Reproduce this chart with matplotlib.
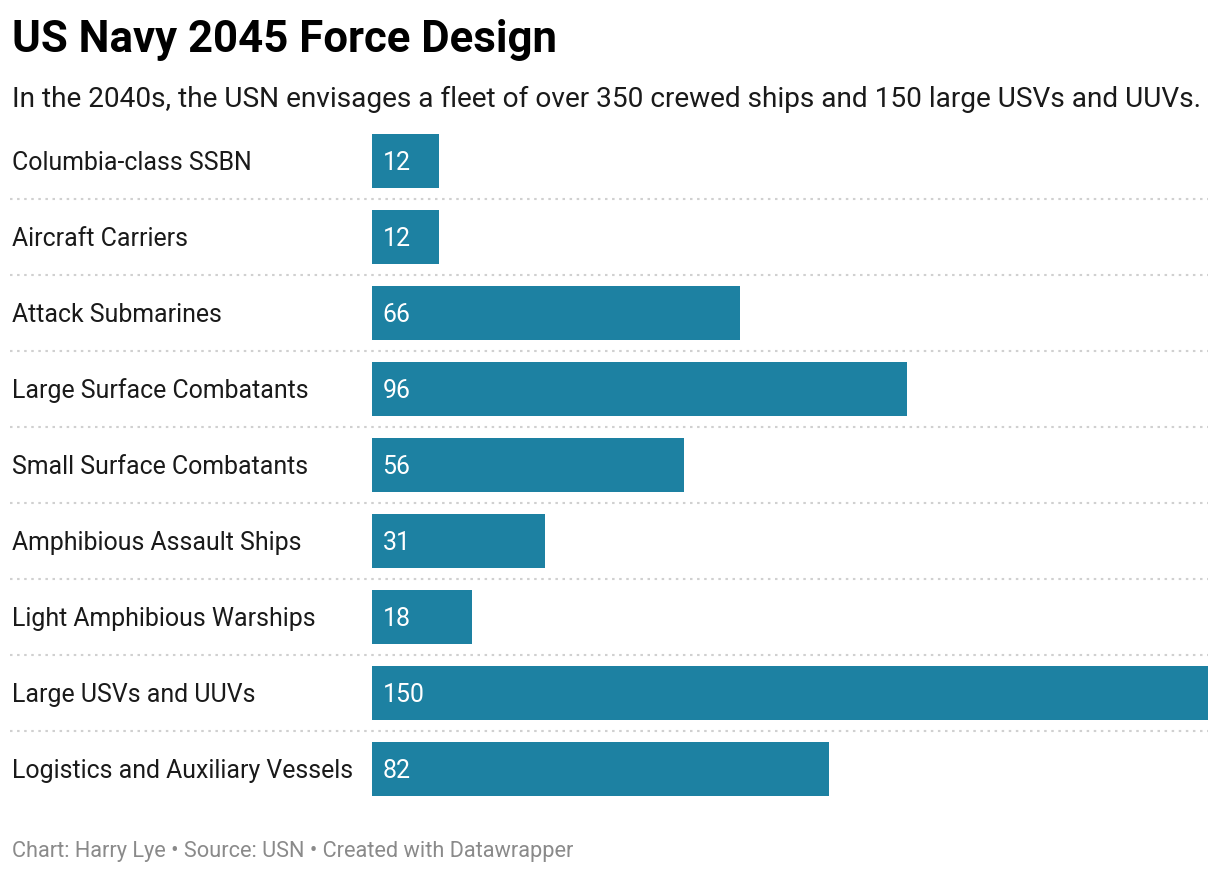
import matplotlib.pyplot as plt
from matplotlib.transforms import blended_transform_factory

categories = ['Columbia-class SSBN', 'Aircraft Carriers', 'Attack Submarines',
              'Large Surface Combatants', 'Small Surface Combatants',
              'Amphibious Assault Ships', 'Light Amphibious Warships',
              'Large USVs and UUVs', 'Logistics and Auxiliary Vessels']
ships = [12, 12, 66, 96, 56, 31, 18, 150, 82]

W, H = 1220, 872
plt.rcParams['font.family'] = ['Roboto', 'DejaVu Sans']
fig = plt.figure(figsize=(W / 100, H / 100), dpi=100)

# axes: x from 372px to 1208px, rows 123px..807px
ax = fig.add_axes([372 / W, (H - 807) / H, 836 / W, 684 / H])
ax.set_xlim(0, 150)
ax.set_ylim(len(categories) - 0.5, -0.5)
ax.axis('off')

ys = list(range(len(categories)))
ax.barh(ys, ships, height=0.7, color='#1d81a2')

lab = blended_transform_factory(fig.transFigure, ax.transData)
for y, name, v in zip(ys, categories, ships):
    ax.text(12 / W, y + 0.02, name, transform=lab, va='center', ha='left',
            fontsize=17.9, color='#1a1a1a')
    ax.text(1.9, y + 0.02, str(v), va='center', ha='left', fontsize=17.9,
            color='white')

# dotted separators
for y in ys[:-1]:
    ax.plot([10 / W, 1208 / W], [y + 0.5, y + 0.5], transform=lab,
            color='#d0d0d0', lw=1.5, ls=(0, (1.2, 2.2)), clip_on=False)

fig.text(12 / W, 1 - 52 / H, 'US Navy 2045 Force Design', fontsize=31.5,
         fontweight='bold', va='baseline', ha='left', color='#000000')
fig.text(12 / W, 1 - 107 / H,
         'In the 2040s, the USN envisages a fleet of over 350 crewed ships and 150 large USVs and UUVs.',
         fontsize=20.15, va='baseline', ha='left', color='#1a1a1a')
fig.text(12 / W, 1 - 857 / H,
         'Chart: Harry Lye \u2022 Source: USN \u2022 Created with Datawrapper',
         fontsize=15.7, va='baseline', ha='left', color='#8a8a8a')

fig.savefig('out.png', dpi=100, facecolor='white')
